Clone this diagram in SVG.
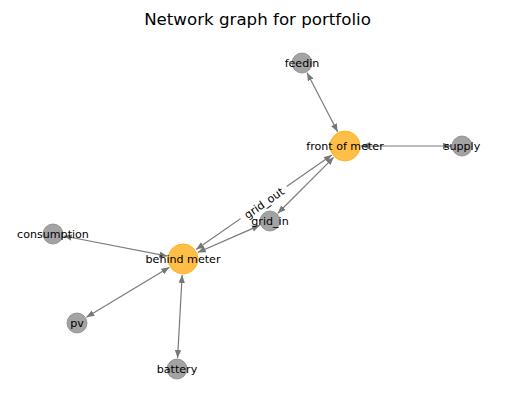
<svg xmlns="http://www.w3.org/2000/svg" width="515" height="411" viewBox="0 0 515 411">
<defs>
<marker id="ah" markerUnits="userSpaceOnUse" markerWidth="9" markerHeight="7" refX="8" refY="3.2" orient="auto-start-reverse">
<path d="M0,0 L8,3.2 L0,6.4 z" fill="#777"/>
</marker>
<style>
.e{stroke:#7a7a7a;stroke-width:1.2;fill:none;marker-start:url(#ah);marker-end:url(#ah)}
.o{fill:#ffa500;fill-opacity:0.72;stroke:#ffa500;stroke-opacity:0.72;stroke-width:1}
.g{fill:#808080;fill-opacity:0.72;stroke:#808080;stroke-opacity:0.72;stroke-width:1}
.t{font-family:"DejaVu Sans",sans-serif;font-size:11.1px;fill:#000;text-anchor:middle}
.title{font-family:"DejaVu Sans",sans-serif;font-size:16.67px;fill:#000;text-anchor:middle}
</style>
</defs>
<rect width="515" height="411" fill="#fff"/>
<text class="title" x="257.5" y="24.5">Network graph for portfolio</text>
<g id="edges">
<line class="e" x1="337.64" y1="131.79" x2="307.06" y2="72.77"/>
<line class="e" x1="361" y1="146" x2="451" y2="146"/>
<line class="e" x1="333.69" y1="157.31" x2="277.78" y2="213.22"/>
<line class="e" x1="196.16" y1="249.50" x2="331.84" y2="155.10"/>
<line class="e" x1="197.72" y1="252.50" x2="259.88" y2="225.31"/>
<line class="e" x1="167.27" y1="256.10" x2="63.82" y2="236.00"/>
<line class="e" x1="169.36" y1="267.36" x2="86.38" y2="317.25"/>
<line class="e" x1="182.14" y1="274.98" x2="177.59" y2="358.02"/>
<g id="edge-label" transform="translate(264,203) rotate(-34.66)">
<rect x="-28" y="-8" width="56" height="16" rx="4" fill="#fff"/>
<text class="t" x="0" y="4">grid_out</text>
</g>
</g>
<g id="front_of_meter"><circle class="o" cx="345" cy="146" r="15"/><text class="t" x="345" y="150">front of meter</text></g>
<g id="behind_meter"><circle class="o" cx="183" cy="259" r="15"/><text class="t" x="183" y="263">behind meter</text></g>
<g id="grid_in"><circle class="g" cx="270" cy="221" r="10"/><text class="t" x="270" y="225">grid_in</text></g>
<g id="feedin"><circle class="g" cx="302" cy="63" r="10"/><text class="t" x="302" y="67">feedin</text></g>
<g id="supply"><circle class="g" cx="462" cy="146" r="10"/><text class="t" x="462" y="150">supply</text></g>
<g id="consumption"><circle class="g" cx="53" cy="234" r="10"/><text class="t" x="53" y="238">consumption</text></g>
<g id="pv"><circle class="g" cx="77" cy="323" r="10"/><text class="t" x="77" y="327">pv</text></g>
<g id="battery"><circle class="g" cx="177" cy="369" r="10"/><text class="t" x="177" y="373">battery</text></g>
</svg>
